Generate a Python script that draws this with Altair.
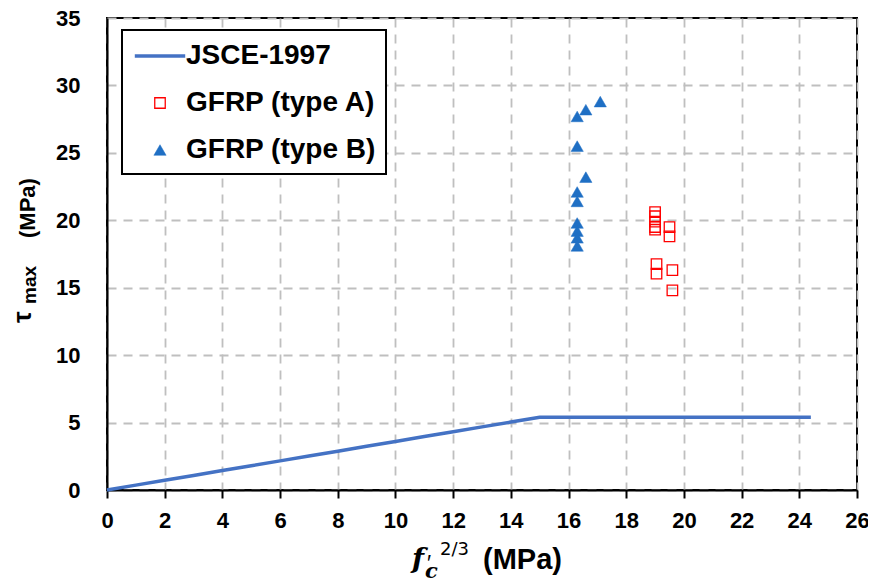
import altair as alt
import pandas as pd

# ---- data ----
series_names = ["JSCE-1997", "GFRP (type A)", "GFRP (type B)"]

jsce_x = [0, 1, 2, 3, 4, 5, 6, 7, 8, 9, 10, 11, 12, 13, 14, 15, 24.4]
jsce_y = [0, 0.36, 0.72, 1.08, 1.44, 1.8, 2.16, 2.52, 2.88, 3.24, 3.6, 3.96, 4.32, 4.68, 5.04, 5.4, 5.4]

typeA_x = [19.0, 19.0, 19.0, 19.0, 19.0, 19.5, 19.5, 19.05, 19.05, 19.6, 19.6]
typeA_y = [20.6, 20.3, 19.9, 19.5, 19.3, 19.5, 18.8, 16.75, 16.05, 16.3, 14.8]

typeB_x = [17.1, 16.6, 16.3, 16.3, 16.6, 16.3, 16.3, 16.3, 16.3, 16.3, 16.3]
typeB_y = [28.8, 28.2, 27.7, 25.5, 23.2, 22.1, 21.4, 19.8, 19.2, 18.7, 18.1]

x_ticks = list(range(0, 27, 2))
y_ticks = list(range(0, 36, 5))

line_df = pd.DataFrame({"x": jsce_x, "y": jsce_y, "series": series_names[0]})
pts_df = pd.concat([
    pd.DataFrame({"x": typeA_x, "y": typeA_y, "series": series_names[1]}),
    pd.DataFrame({"x": typeB_x, "y": typeB_y, "series": series_names[2]}),
], ignore_index=True)

# ---- styling ----
LINE_BLUE = "#4472C4"
TRI_BLUE = "#1F6FC4"
RED = "#FF0000"
FONT = "Liberation Sans"

xscale = alt.Scale(domain=[0, 26], nice=False)
yscale = alt.Scale(domain=[0, 35], nice=False)

xaxis = alt.Axis(values=x_ticks, title=None, tickSize=8, labelPadding=12,
                 labelFlush=False, labelOverlap=False, grid=True)
yaxis = alt.Axis(values=y_ticks, title=None, ticks=False, labelPadding=27,
                 labelFlush=False, labelOverlap=False, grid=True)

legend = alt.Legend(title=None, orient="none", legendX=15, legendY=12,
                    strokeColor="black", fillColor="white", padding=10,
                    labelFont=FONT, labelFontWeight="bold", labelFontSize=28,
                    labelColor="black", rowPadding=19, labelOffset=10,
                    symbolOffset=12, labelLimit=500, symbolOpacity=1)

stroke_enc = alt.Stroke("series:N", scale=alt.Scale(domain=series_names, range=[LINE_BLUE, RED, TRI_BLUE]), legend=legend)

line = alt.Chart(line_df).mark_line(strokeWidth=3.5).encode(
    x=alt.X("x:Q", scale=xscale, axis=xaxis),
    y=alt.Y("y:Q", scale=yscale, axis=yaxis),
    stroke=stroke_enc,
    order="x:Q",
)

points = alt.Chart(pts_df).mark_point(opacity=1, fillOpacity=1).encode(
    x=alt.X("x:Q", scale=xscale, axis=xaxis),
    y=alt.Y("y:Q", scale=yscale, axis=yaxis),
    stroke=stroke_enc,
    fill=alt.Fill("series:N", scale=alt.Scale(domain=series_names, range=["transparent", "transparent", TRI_BLUE])),
    shape=alt.Shape("series:N", scale=alt.Scale(domain=series_names, range=["M-1.8,0H1.8", "square", "triangle-up"])),
    size=alt.Size("series:N", scale=alt.Scale(type="ordinal", domain=series_names, range=[784, 110, 150])),
    strokeWidth=alt.StrokeWidth("series:N", scale=alt.Scale(type="ordinal", domain=series_names, range=[3.5, 1.3, 0.5])),
)

one = pd.DataFrame({"a": [0]})

def txt(text, x, y, size, angle=0, font=FONT, style="normal", weight="bold", align="left"):
    return alt.Chart(one).mark_text(
        text=text, font=font, fontSize=size, fontStyle=style, fontWeight=weight,
        align=align, baseline="alphabetic", angle=angle, color="black"
    ).encode(x=alt.value(x), y=alt.value(y))

# x-axis title pieces:  f'_c ^(2/3) (MPa)
xt = [
    txt("f", 317, 550, 28, font="DejaVu Serif", style="italic", align="right"),
    txt("′", 320, 552, 22, weight="normal"),
    txt("c", 318, 560, 21, font="DejaVu Serif", style="italic"),
    txt("2/3", 333, 537, 18, font="DejaVu Sans", weight="normal"),
    txt("(MPa)", 376, 551, 29),
]
# y-axis title pieces: tau_max (MPa), rotated
yt = [
    txt("τ", -76, 305, 26, angle=270),
    txt("max", -71, 286, 19, angle=270),
    txt("(MPa)", -72, 220, 22, angle=270),
]

chart = alt.layer(line, points, *xt, *yt).properties(
    width=750, height=472,
    autosize=alt.AutoSizeParams(type="none"),
    padding={"left": 99, "top": 10, "right": 11, "bottom": 90},
).configure_axis(
    gridColor="#BFBFBF", gridDash=[9, 7], gridWidth=1.8,
    domainColor="black", domainWidth=2,
    tickColor="black", tickWidth=2,
    labelFont=FONT, labelFontWeight="bold", labelFontSize=22, labelColor="black",
).configure_view(
    stroke="black", strokeWidth=2,
).configure_legend(
    strokeWidth=2,
)

chart.save("out.html", embed_options={"renderer": "svg", "actions": False})
